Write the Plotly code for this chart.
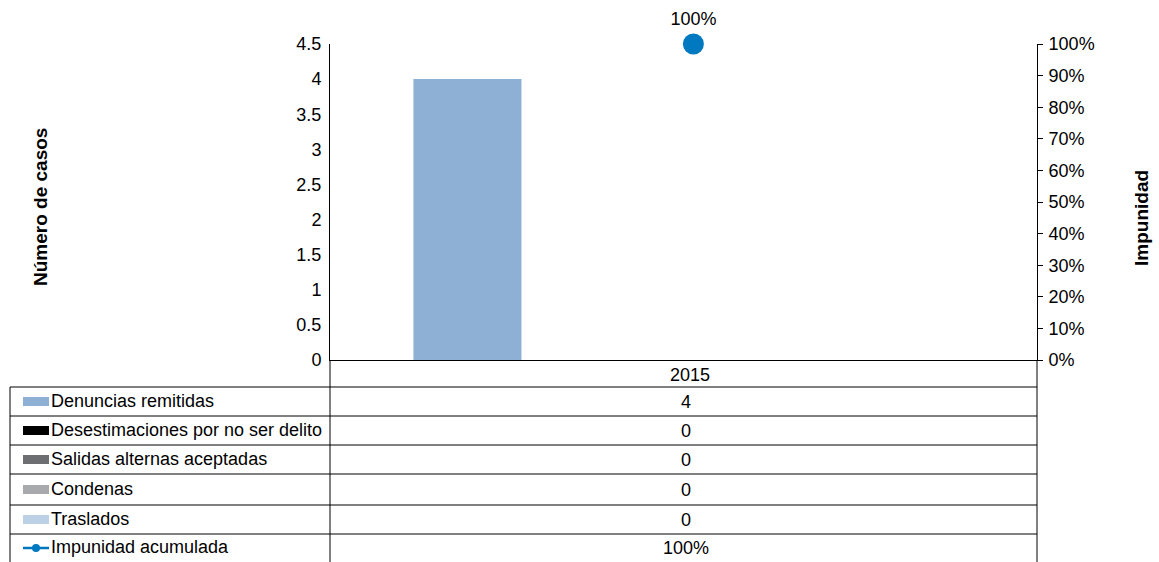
import plotly.graph_objects as go

categories = ["2015"]
series_names = ["Denuncias remitidas", "Desestimaciones por no ser delito",
                "Salidas alternas aceptadas", "Condenas", "Traslados"]
series_values = [[4], [0], [0], [0], [0]]
series_colors = ["#8DB0D4", "#000000", "#6D6E71", "#A7A9AC", "#BCD0E6"]
impunidad_name = "Impunidad acumulada"
impunidad_values = [1.0]
impunidad_color = "#0079C1"

W, H = 1159, 562
L, R, T, B = 330, 1037, 44, 360
FONT = "Liberation Sans"
FS = 18

def px(x):
    return (x - L) / (R - L)

def py(y):
    return (B - y) / (B - T)

fig = go.Figure()
for name, vals, col in zip(series_names, series_values, series_colors):
    fig.add_trace(go.Bar(x=categories, y=vals, name=name, marker_color=col,
                         marker_line_width=0, showlegend=False, yaxis="y"))
fig.add_trace(go.Scatter(x=categories, y=impunidad_values, name=impunidad_name,
                         mode="markers+text", marker=dict(color=impunidad_color, size=21),
                         line=dict(color=impunidad_color),
                         text=[f"{v*100:.0f}%" for v in impunidad_values],
                         textposition="top center", textfont=dict(size=FS, color="#000", family=FONT),
                         cliponaxis=False, showlegend=False, xaxis="x2", yaxis="y2"))

shapes = []
annotations = []
line = dict(color="#000", width=1)
shapes.append(dict(type="line", xref="paper", yref="paper", x0=px(L), x1=px(L), y0=py(B), y1=py(562), line=line))
shapes.append(dict(type="line", xref="paper", yref="paper", x0=px(R), x1=px(R), y0=py(B), y1=py(562), line=line))
shapes.append(dict(type="line", xref="paper", yref="paper", x0=px(10), x1=px(10), y0=py(387), y1=py(562), line=line))
row_lines = [387, 416, 445, 474, 505, 534]
for yl in row_lines:
    shapes.append(dict(type="line", xref="paper", yref="paper", x0=px(10), x1=px(R), y0=py(yl), y1=py(yl), line=line))

def txt(x, y, s, xanchor="center", size=FS, **kw):
    annotations.append(dict(xref="paper", yref="paper", x=px(x), y=py(y), xanchor=xanchor,
                            yanchor="middle", text=s, showarrow=False,
                            font=dict(size=size, family=FONT, color="#000"), **kw))

txt((L + R) / 2 + 6, (B + 387) / 2 + 1, categories[0])

row_names = series_names + [impunidad_name]
row_vals = [str(v[0]) for v in series_values] + [f"{impunidad_values[0]*100:.0f}%"]
row_cols = series_colors + [impunidad_color]
bounds = row_lines + [562]
for i, (n, v, c) in enumerate(zip(row_names, row_vals, row_cols)):
    yc = (bounds[i] + bounds[i + 1]) / 2
    if i < 5:
        shapes.append(dict(type="rect", xref="paper", yref="paper", x0=px(23), x1=px(49),
                           y0=py(yc - 4.5), y1=py(yc + 4.5), fillcolor=c, line=dict(width=0)))
    else:
        shapes.append(dict(type="line", xref="paper", yref="paper", x0=px(23), x1=px(49),
                           y0=py(yc), y1=py(yc), line=dict(color=c, width=2.5)))
        shapes.append(dict(type="circle", xref="paper", yref="paper", x0=px(32), x1=px(40),
                           y0=py(yc - 4), y1=py(yc + 4), fillcolor=c, line=dict(width=0)))
    txt(49, yc - 1, n, xanchor="left")
    txt((L + R) / 2 + 2, yc, v)

txt(40, 207, "<b>Número de casos</b>", size=19, textangle=-90)
txt(1141, 218, "<b>Impunidad</b>", size=19, textangle=-90)

fig.update_layout(
    width=W, height=H, margin=dict(l=L, r=W - R, t=T, b=H - B),
    paper_bgcolor="white", plot_bgcolor="white",
    barmode="group", bargap=0.236, bargroupgap=0,
    font=dict(family=FONT, size=FS, color="#000"),
    shapes=shapes, annotations=annotations, showlegend=False,
    xaxis=dict(showticklabels=False, showline=True, linecolor="#000", linewidth=1,
               ticks="", showgrid=False, zeroline=False),
    xaxis2=dict(overlaying="x", range=[-0.514, 0.486], visible=False),
    yaxis=dict(range=[0, 4.5], dtick=0.5, showline=True, linecolor="#000", linewidth=1,
               ticks="", showgrid=False, zeroline=False, ticklabelstandoff=4),
    yaxis2=dict(range=[0, 1], dtick=0.1, tickformat=".0%", overlaying="y", side="right",
                showline=True, linecolor="#000", linewidth=1, ticks="outside", ticklen=5,
                tickcolor="#000", showgrid=False, zeroline=False, ticklabelstandoff=2),
)

fig.write_html("out.html", config={"displayModeBar": False},
               post_script="document.body.style.margin='0';")
